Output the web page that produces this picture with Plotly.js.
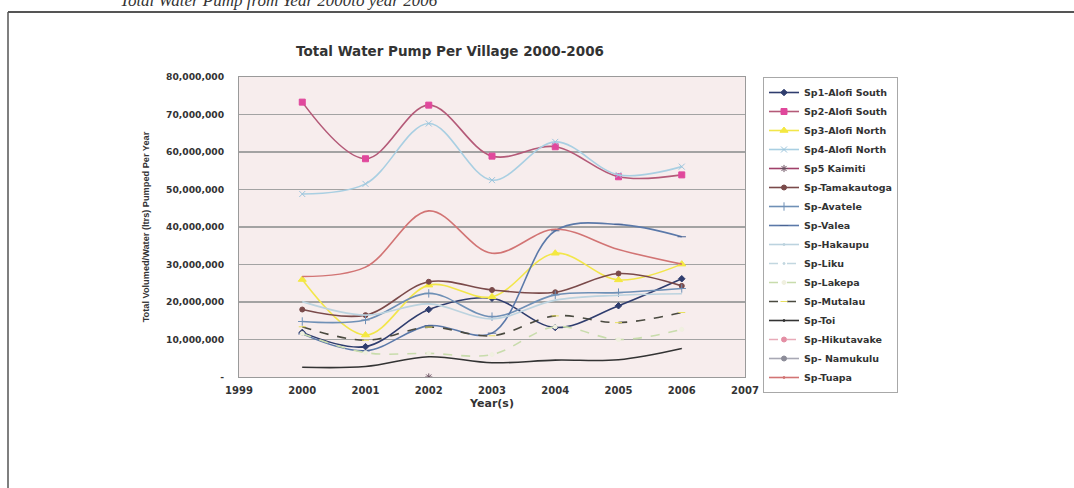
<!DOCTYPE html>
<html>
<head>
<meta charset="utf-8">
<script src="https://cdn.plot.ly/plotly-3.0.1.min.js"></script>
<style>
  html, body { margin: 0; padding: 0; background: #ffffff; }
  #chart { width: 1074px; height: 488px; }
</style>
</head>
<body>
<div id="chart"></div>
<script>
// ---- data ----
const years = [2000, 2001, 2002, 2003, 2004, 2005, 2006];
const xTickVals = [1999, 2000, 2001, 2002, 2003, 2004, 2005, 2006, 2007];
const yTickVals = [0, 10000000, 20000000, 30000000, 40000000, 50000000, 60000000, 70000000, 80000000];
const yTickText = ["-", "10,000,000", "20,000,000", "30,000,000", "40,000,000", "50,000,000", "60,000,000", "70,000,000", "80,000,000"];

const seriesNames = ["Sp1-Alofi South", "Sp2-Alofi South", "Sp3-Alofi North", "Sp4-Alofi North", "Sp5 Kaimiti",
  "Sp-Tamakautoga", "Sp-Avatele", "Sp-Valea", "Sp-Hakaupu", "Sp-Liku", "Sp-Lakepa", "Sp-Mutalau",
  "Sp-Toi", "Sp-Hikutavake", "Sp- Namukulu", "Sp-Tuapa"];

const sp1 = [11900000, 8100000, 18000000, 21000000, 13200000, 19000000, 26200000];
const sp2 = [73300000, 58200000, 72500000, 58900000, 61400000, 53400000, 53900000];
const sp3 = [26000000, 11200000, 24500000, 21400000, 33000000, 25900000, 30100000];
const sp4 = [48800000, 51500000, 67600000, 52500000, 62700000, 53900000, 56100000];
const sp5 = [null, null, 0, null, null, null, null];
const tamakautoga = [18000000, 16500000, 25400000, 23200000, 22600000, 27600000, 24300000];
const avatele = [14800000, 15200000, 22300000, 16100000, 21900000, 22500000, 23600000];
const valea = [11500000, 7000000, 13700000, 11700000, 39000000, 40700000, 37400000];
const hakaupu = [20100000, 16500000, 19500000, 15500000, 20500000, 21800000, 22200000];
const liku = [null, null, null, null, null, null, null];
const lakepa = [11600000, 6500000, 6300000, 6000000, 13400000, 10000000, 12700000];
const mutalau = [13400000, 9800000, 13300000, 11000000, 16300000, 14500000, 17200000];
const toi = [2600000, 2800000, 5400000, 3800000, 4500000, 4600000, 7600000];
const hikutavake = [null, null, null, null, null, null, null];
const namukulu = [null, null, null, null, null, null, null];
const tuapa = [26800000, 29300000, 44300000, 33000000, 39400000, 34000000, 30100000];

const seriesValues = [sp1, sp2, sp3, sp4, sp5, tamakautoga, avatele, valea, hakaupu, liku,
  lakepa, mutalau, toi, hikutavake, namukulu, tuapa];

// ---- styles ----
const styles = [
  {line: "#2f3d6e", dash: "solid", mk: "diamond", mc: "#2f3d6e", ms: 5},
  {line: "#b45a78", dash: "solid", mk: "square", mc: "#e0489c", ms: 6},
  {line: "#f2e64a", dash: "solid", mk: "triangle-up", mc: "#f4e840", ms: 7},
  {line: "#a9cfe2", dash: "solid", mk: "x-thin", mc: "#9cc4dc", ms: 6},
  {line: "#a0406a", dash: "solid", mk: "asterisk-open", mc: "#6a5060", ms: 6},
  {line: "#7a4a4a", dash: "solid", mk: "circle", mc: "#7a4a4a", ms: 5},
  {line: "#6f90b6", dash: "solid", mk: "cross-thin-open", mc: "#6f90b6", ms: 6},
  {line: "#5b79a9", dash: "solid", mk: "line-ew-open", mc: "#4a6494", ms: 6},
  {line: "#bcd3df", dash: "solid", mk: "circle", mc: "#bcd3df", ms: 0.1},
  {line: "#c2d7e0", dash: "dash", mk: "circle", mc: "#c2d7e0", ms: 0.1},
  {line: "#c8dcac", dash: "dash", mk: "circle", mc: "#f0f0e0", ms: 4},
  {line: "#4a4a40", dash: "dash", mk: "line-ew-open", mc: "#e8e060", ms: 5},
  {line: "#333333", dash: "solid", mk: "circle", mc: "#333333", ms: 0.1},
  {line: "#e8aab8", dash: "dash", mk: "circle", mc: "#e48ea4", ms: 5},
  {line: "#a8a8b4", dash: "solid", mk: "circle", mc: "#8c8c98", ms: 5},
  {line: "#d27474", dash: "solid", mk: "circle", mc: "#d27474", ms: 0.1}
];

const traces = seriesNames.map((name, i) => ({
  type: "scatter",
  mode: "lines+markers",
  name: name,
  x: years,
  y: seriesValues[i],
  line: {color: styles[i].line, width: 1.6, dash: styles[i].dash, shape: "spline", smoothing: 1},
  marker: {symbol: styles[i].mk, color: styles[i].mc, size: styles[i].ms,
           line: {color: styles[i].mc, width: 1}},
  connectgaps: false
}));

// plot area in pixels: x 239..745, y 77..377
const L = 239, R = 745, T = 77, B = 377;
const px = v => (v - L) / (R - L);
const py = v => (B - v) / (B - T);
const SANS = "DejaVu Sans, Verdana, sans-serif";

const layout = {
  width: 1074,
  height: 488,
  margin: {l: L, r: 1074 - R, t: T, b: 488 - B, pad: 0},
  paper_bgcolor: "#ffffff",
  plot_bgcolor: "#f7eded",
  font: {family: SANS, color: "#222222"},
  showlegend: true,
  title: {
    text: "<b>Total Water Pump Per Village 2000-2006</b>",
    font: {size: 13.5, color: "#333333", family: SANS},
    x: 450 / 1074, xanchor: "center",
    y: 1 - 51 / 488, yanchor: "middle"
  },
  xaxis: {
    range: [1999, 2007],
    tickvals: xTickVals,
    ticktext: xTickVals.map(String),
    showgrid: false,
    zeroline: false,
    showline: true,
    linecolor: "#9a9a9a",
    linewidth: 1,
    mirror: true,
    ticks: "",
    ticklabelstandoff: 4,
    tickfont: {size: 10, color: "#333333", family: SANS, weight: "bold"},
    title: {text: "<b>Year(s)</b>", font: {size: 11, color: "#333333", family: SANS}, standoff: 4}
  },
  yaxis: {
    range: [0, 80000000],
    tickvals: yTickVals,
    ticktext: yTickText,
    showgrid: true,
    gridcolor: "#a3a3a3",
    gridwidth: 1.2,
    zeroline: false,
    showline: true,
    linecolor: "#9a9a9a",
    mirror: true,
    ticks: "",
    ticklabelstandoff: 12,
    tickfont: {size: 9.2, color: "#333333", family: SANS, weight: "bold"},
    title: {text: "Total Volumed/Water (ltrs) Pumped Per Year",
            font: {size: 9.2, color: "#333333", family: "Liberation Sans, Arial, sans-serif", weight: "bold"},
            standoff: 14}
  },
  legend: {
    x: px(763), xanchor: "left",
    y: py(77), yanchor: "top",
    bgcolor: "#ffffff",
    bordercolor: "#a8a8a8",
    borderwidth: 1,
    font: {size: 9.5, color: "#333333", family: SANS, weight: "bold"},
    itemwidth: 30,
    maxheight: 420,
    traceorder: "normal"
  },
  shapes: [
    {type: "line", xref: "paper", yref: "paper", x0: px(8), x1: px(1074), y0: py(12), y1: py(12),
     line: {color: "#555555", width: 2}},
    {type: "line", xref: "paper", yref: "paper", x0: px(8), x1: px(8), y0: py(12), y1: py(488),
     line: {color: "#555555", width: 1.5}}
  ],
  annotations: [
    {text: "<i>Total Water Pump from Year 2000to year 2006</i>", xref: "paper", yref: "paper",
     x: px(118), xanchor: "left", y: py(1), yanchor: "middle", showarrow: false,
     font: {family: "Liberation Serif, Times New Roman, serif", size: 17, color: "#333333"}}
  ]
};

Plotly.newPlot("chart", traces, layout, {displayModeBar: false, staticPlot: true});
</script>
</body>
</html>
